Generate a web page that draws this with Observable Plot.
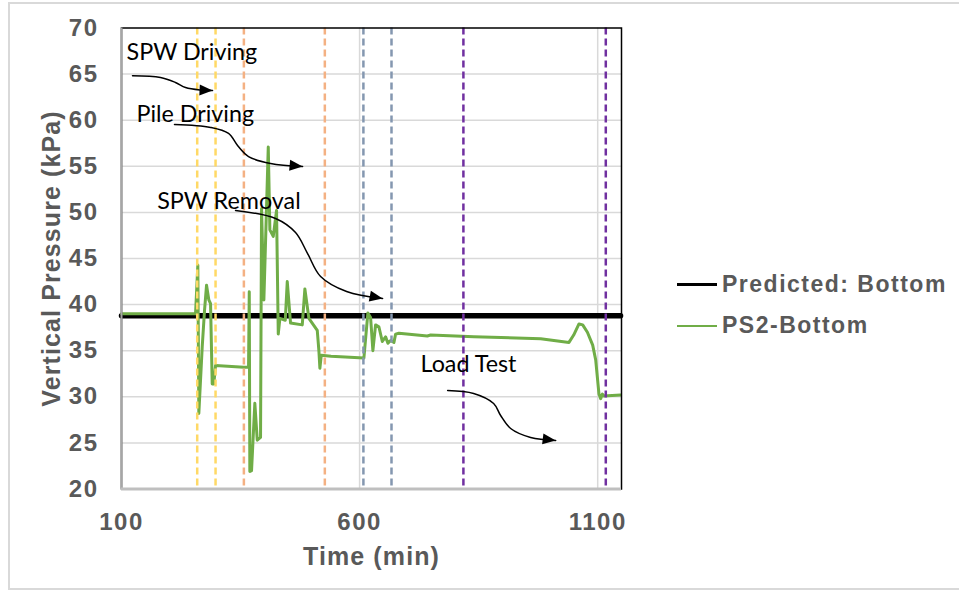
<!DOCTYPE html>
<html>
<head>
<meta charset="utf-8">
<script src="https://cdn.jsdelivr.net/npm/d3@7"></script>
<script src="https://cdn.jsdelivr.net/npm/@observablehq/plot@0.6"></script>
<style>
  html, body { margin: 0; padding: 0; background: #fff; }
  #wrap { position: relative; width: 959px; height: 594px; overflow: hidden; }
  #border { position: absolute; left: 8px; top: 2px; width: 1000px; height: 588px; border: 2px solid #d9d9d9; box-sizing: border-box; }
  #chart { position: absolute; left: 0; top: 0; }
  #legend { position: absolute; left: 677px; top: 264px; font-family: "Liberation Sans", Arial, sans-serif; font-weight: bold; font-size: 23px; letter-spacing: 1.5px; color: #595959; }
  .item { position: relative; height: 41px; display: flex; align-items: center; }
  .sw { width: 40px; margin-right: 5px; }
</style>
</head>
<body>
<div id="wrap">
  <div id="border"></div>
  <div id="chart"></div>
  <div id="legend"></div>
</div>
<script>
// ---- Data ----
const xTicks = [100, 600, 1100];
const yTicks = [20, 25, 30, 35, 40, 45, 50, 55, 60, 65, 70];

const predictedTime = [100, 1148];
const predictedValue = [38.8, 38.8];

const ps2Time = [100, 255.5, 260.3, 262.4, 269.5, 274.4, 278.6, 283.4, 287, 290.5, 293.9, 297.5,
  356.9, 366.8, 368.3, 369.5, 373.1, 380, 385.1, 392, 394.1, 399, 408.2, 411.6, 418.7, 425.6,
  429.2, 432.6, 443.9, 448.1, 455, 479.6, 485.1, 493.5, 511.1, 514.5, 516.6, 519.5, 540, 609,
  617.4, 623.1, 627.9, 633.6, 640.5, 647.7, 654.6, 659.5, 665.1, 672.1, 675.6, 682.6, 742.2,
  749.2, 840.1, 980.3, 1039.7, 1049.6, 1060.7, 1068.5, 1078.4, 1089.5, 1095.8, 1102.7, 1106.3,
  1109.9, 1112.6, 1148];
const ps2Value = [39.0, 39.0, 44.3, 28.2, 35.4, 39.4, 42.1, 40.5, 40.1, 31.4, 31.4, 33.4,
  33.2, 33.2, 41.4, 21.9, 22.0, 29.3, 25.3, 25.6, 50.4, 40.5, 57.1, 48.1, 47.4, 50.2,
  36.8, 38.5, 38.3, 42.5, 38.0, 37.8, 41.7, 38.5, 37.2, 35.0, 33.1, 34.5, 34.4, 34.2,
  39.1, 38.6, 35.0, 37.8, 37.6, 36.0, 36.5, 35.8, 36.1, 35.9, 36.8, 36.9, 36.6,
  36.7, 36.5, 36.3, 35.9, 36.7, 37.9, 37.8, 37.0, 35.6, 34.0, 30.3, 29.8,
  30.3, 30.1, 30.2];

const eventTime = [259, 297.5, 357, 527, 608, 667, 818, 1117];
const eventPhase = ["SPW Driving", "SPW Driving", "Pile Driving", "Pile Driving",
  "SPW Removal", "SPW Removal", "Load Test", "Load Test"];

const noteText = ["SPW Driving", "Pile Driving", "SPW Removal", "Load Test"];
const noteTime = [110.5, 131.5, 175, 728];
const noteValue = [66.58, 59.78, 50.42, 32.67];

const arrowSpwDrivingT = [123.1, 181.9, 213.4, 234.5, 266, 291.2];
const arrowSpwDrivingV = [64.82, 64.63, 64.09, 63.55, 63.28, 63.22];
const arrowPileDrivingT = [211.3, 287, 324.8, 343.7, 366.8, 413, 480.3];
const arrowPileDrivingV = [59.53, 59.21, 58.56, 57.26, 56.06, 55.30, 54.98];
const arrowSpwRemovalT = [339.5, 423.5, 465.5, 490.8, 518.1, 572.7, 648.3];
const arrowSpwRemovalV = [50.21, 49.34, 47.82, 45.54, 43.05, 41.42, 40.66];
const arrowLoadTestT = [784.9, 839.5, 881.5, 896.2, 917.2, 959.2, 1011.8];
const arrowLoadTestV = [30.68, 30.36, 29.27, 27.97, 26.56, 25.59, 25.27];

// ---- Build tables ----
const predicted = predictedTime.map((t, i) => ({t, v: predictedValue[i]}));
const ps2 = ps2Time.map((t, i) => ({t, v: ps2Value[i]}));
const events = eventTime.map((t, i) => ({t, phase: eventPhase[i]}));
const notes = noteText.map((s, i) => ({s, t: noteTime[i], v: noteValue[i]}));
const arrowSets = [
  [arrowSpwDrivingT, arrowSpwDrivingV],
  [arrowPileDrivingT, arrowPileDrivingV],
  [arrowSpwRemovalT, arrowSpwRemovalV],
  [arrowLoadTestT, arrowLoadTestV]
];
const arrowPts = arrowSets.flatMap(([T, V], k) => T.map((t, i) => ({k, t, v: V[i]})));

const W = 959, H = 594;
const mL = 121, mR = 338, mT = 27.5, mB = 105.5;
const xDom = [100, 1150], yDom = [20, 70];
const kx = (W - mL - mR) / (xDom[1] - xDom[0]);
const ky = (H - mT - mB) / (yDom[1] - yDom[0]);
const heads = arrowSets.map(([T, V]) => {
  const n = T.length;
  const dx = (T[n - 1] - T[n - 2]) * kx, dy = -(V[n - 1] - V[n - 2]) * ky;
  return {t: T[n - 1], v: V[n - 1], a: Math.atan2(dy, dx) * 180 / Math.PI};
});
const arrowHead = {
  draw(ctx) {
    ctx.moveTo(0, 0);
    ctx.lineTo(-13, -5.5);
    ctx.lineTo(-13, 5.5);
    ctx.closePath();
  }
};

const axisFont = "'Liberation Sans', Arial, sans-serif";
const plot = Plot.plot({
  width: W, height: H,
  marginLeft: mL, marginRight: mR, marginTop: mT, marginBottom: mB,
  style: {fontFamily: axisFont, fontSize: "23px", fontWeight: "bold", color: "#595959", background: "transparent", overflow: "visible"},
  x: {domain: xDom},
  y: {domain: yDom},
  color: {domain: ["SPW Driving", "Pile Driving", "SPW Removal", "Load Test"], range: ["#FFD966", "#F4B183", "#8497B0", "#7030A0"]},
  marks: [
    Plot.ruleY(yTicks.filter(d => d > 20 && d < 70), {stroke: "#d9d9d9", strokeWidth: 1.5}),
    Plot.ruleX(xTicks.filter(d => d > 100), {stroke: "#d9d9d9", strokeWidth: 1.5}),
    Plot.line(predicted, {x: "t", y: "v", stroke: "#000", strokeWidth: 5.5}),
    Plot.line(ps2, {x: "t", y: "v", stroke: "#70AD47", strokeWidth: 3, strokeLinejoin: "round"}),
    Plot.ruleX(events, {x: "t", stroke: "phase", strokeWidth: 2.5, strokeDasharray: "7,4"}),
    Plot.text(notes, {x: "t", y: "v", text: "s", textAnchor: "start", lineAnchor: "bottom", fontFamily: "Lato, 'Open Sans', sans-serif", fontSize: 23.3, fontWeight: "normal", fill: "#000"}),
    Plot.line(arrowPts, {x: "t", y: "v", z: "k", curve: "catmull-rom", stroke: "#000", strokeWidth: 1.5}),
    Plot.dot(heads, {x: "t", y: "v", rotate: "a", symbol: arrowHead, fill: "#000", stroke: "none", r: 5}),
    Plot.frame({stroke: "#000", strokeWidth: 1.5}),
    Plot.ruleX([100], {stroke: "#a6a6a6", strokeWidth: 2}),
    Plot.ruleY([20], {stroke: "#bfbfbf", strokeWidth: 3}),
    Plot.axisY({ticks: yTicks, tickSize: 0, tickPadding: 23, label: null, tickFormat: d => String(d), fontSize: 24, fontWeight: "bold", fontFamily: axisFont}),
    Plot.axisX({ticks: xTicks, tickSize: 0, tickPadding: 24, label: null, tickFormat: d => String(d), fontSize: 24, fontWeight: "bold", fontFamily: axisFont}),
    Plot.text(["Time (min)"], {frameAnchor: "bottom", dy: 68, textAnchor: "middle", lineAnchor: "middle", fill: "#595959", fontSize: 25, fontWeight: "bold", fontFamily: axisFont}),
    Plot.text(["Vertical Pressure (kPa)"], {frameAnchor: "left", dx: -70, rotate: -90, textAnchor: "middle", lineAnchor: "middle", fill: "#595959", fontSize: 25, fontWeight: "bold", fontFamily: axisFont})
  ]
});
document.getElementById("chart").appendChild(plot);
plot.querySelectorAll("text").forEach(el => {
  const s = el.textContent;
  if (s === "Time (min)" || s === "Vertical Pressure (kPa)") el.style.letterSpacing = "1.1px";
  else if (/^\d+$/.test(s)) el.style.letterSpacing = "1.5px";
});

const legendItems = [["Predicted: Bottom", "#000", 3], ["PS2-Bottom", "#70AD47", 2.5]];
const legend = document.getElementById("legend");
for (const [name, color, w] of legendItems) {
  const it = document.createElement("div");
  it.className = "item";
  const sw = document.createElement("div");
  sw.className = "sw";
  sw.style.borderTop = `${w}px solid ${color}`;
  it.appendChild(sw);
  const tx = document.createElement("span");
  tx.textContent = name;
  it.appendChild(tx);
  legend.appendChild(it);
}
</script>
</body>
</html>
